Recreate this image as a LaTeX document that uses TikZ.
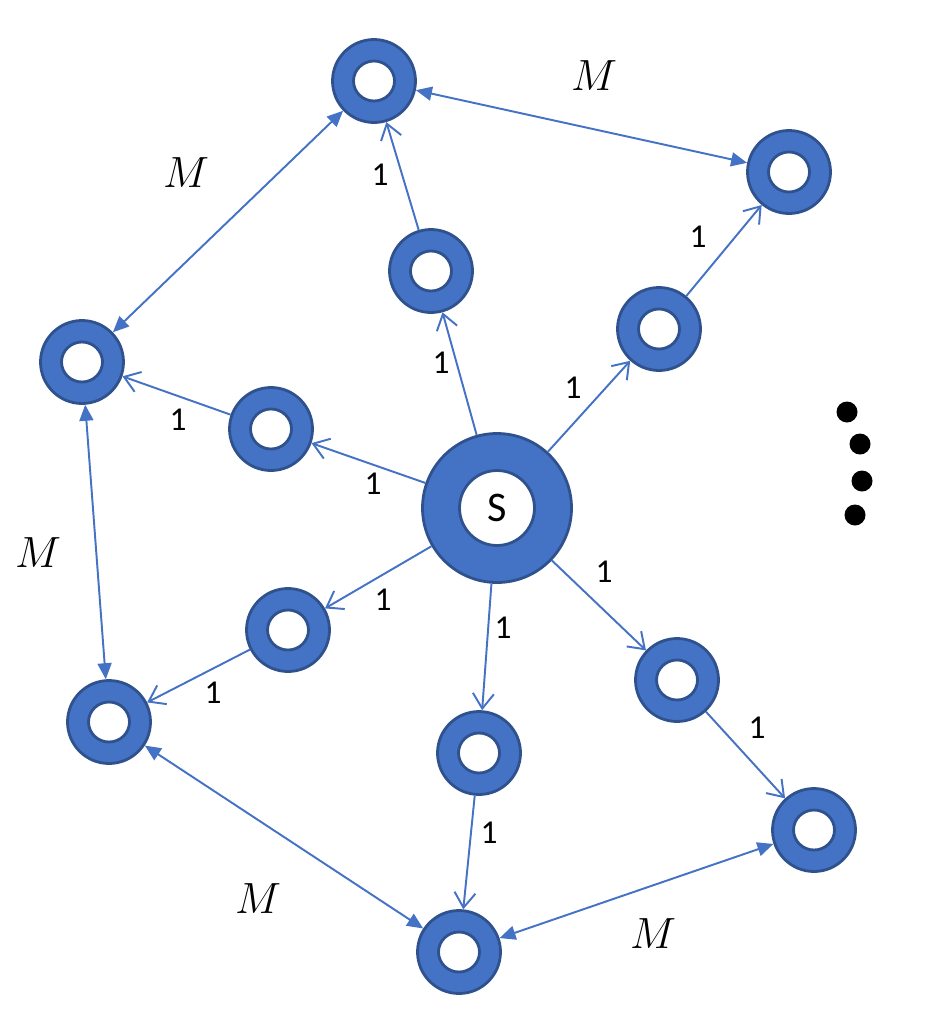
\documentclass[tikz,border=0pt]{standalone}
\usepackage{fontspec}
\setmainfont{Carlito}
\usetikzlibrary{arrows.meta}
\definecolor{ringblue}{HTML}{4472C4}
\definecolor{ringedge}{HTML}{2F528F}

\begin{document}
\begin{tikzpicture}[
    x=0.02cm, y=-0.02cm,
    ring/.style={
        circle,
        draw=ringedge,
        fill=ringblue,
        line width=1.6pt,
        minimum size=1.66cm,
        inner sep=0pt,
        path picture={\draw[ringedge, fill=white, line width=1.6pt]
            (path picture bounding box.center) ellipse (0.41cm and 0.4cm);}
    },
    source/.style={
        circle,
        draw=ringedge,
        fill=ringblue,
        line width=1.6pt,
        minimum size=2.98cm,
        inner sep=0pt,
        font=\fontsize{24}{26}\selectfont,
        path picture={\draw[ringedge, fill=white, line width=1.6pt]
            (path picture bounding box.center) circle (0.75cm);}
    },
    unitedge/.style={draw=ringblue, line width=1.1pt,
        -{Straight Barb[length=0.3cm, width=0.42cm]}},
    bigedge/.style={draw=ringblue, line width=1.1pt,
        {Triangle[length=0.32cm, width=0.28cm]}-{Triangle[length=0.32cm, width=0.28cm]}},
    onelabel/.style={font=\fontsize{19}{21}\selectfont},
    mlabel/.style={font=\fontsize{23}{25}\selectfont}
]
\useasboundingbox (0,0) rectangle (947,1018);

% ---- source ----
\node[source] (S) at (497, 508) {S};

% ---- inner ring (distance 1) ----
\node[ring] (I1) at (431, 271) {};
\node[ring] (I2) at (659, 329) {};
\node[ring] (I3) at (271, 429) {};
\node[ring] (I4) at (288, 630) {};
\node[ring] (I5) at (479, 753) {};
\node[ring] (I6) at (677, 680) {};

% ---- outer ring ----
\node[ring] (T)  at (374, 81)  {};
\node[ring] (TR) at (789, 172) {};
\node[ring] (L)  at (82, 362)  {};
\node[ring] (BL) at (109, 722) {};
\node[ring] (B)  at (459, 952) {};
\node[ring] (BR) at (814, 830) {};

% ---- spokes: source to inner ----
\draw[unitedge] (S) -- (I1);
\draw[unitedge] (S) -- (I2);
\draw[unitedge] (S) -- (I3);
\draw[unitedge] (S) -- (I4);
\draw[unitedge] (S) -- (I5);
\draw[unitedge] (S) -- (I6);

% ---- spokes: inner to outer ----
\draw[unitedge] (I1) -- (T);
\draw[unitedge] (I2) -- (TR);
\draw[unitedge] (I3) -- (L);
\draw[unitedge] (I4) -- (BL);
\draw[unitedge] (I5) -- (B);
\draw[unitedge] (I6) -- (BR);

% ---- outer cycle ----
\draw[bigedge] (T) -- (TR);
\draw[bigedge] (T) -- (L);
\draw[bigedge] (L) -- (BL);
\draw[bigedge] (BL) -- (B);
\draw[bigedge] (B) -- (BR);

% ---- weight labels ----
\node[onelabel] (w1) at (441, 363) {1};
\node[onelabel] (w2) at (380, 175) {1};
\node[onelabel] (w3) at (573, 388) {1};
\node[onelabel] (w4) at (698, 237) {1};
\node[onelabel] (w5) at (373, 484) {1};
\node[onelabel] (w6) at (178, 420) {1};
\node[onelabel] (w7) at (383, 600) {1};
\node[onelabel] (w8) at (213, 693) {1};
\node[onelabel] (w9) at (503, 628) {1};
\node[onelabel] (w10) at (489, 833) {1};
\node[onelabel] (w11) at (604, 572) {1};
\node[onelabel] (w12) at (757, 728) {1};

\node[mlabel] (m1) at (594, 76)  {$M$};
\node[mlabel] (m2) at (186, 173) {$M$};
\node[mlabel] (m3) at (38, 553)  {$M$};
\node[mlabel] (m4) at (258, 899) {$M$};
\node[mlabel] (m5) at (653, 934) {$M$};

% ---- continuation dots ----
\fill[black] (847, 412) circle (0.21cm);
\fill[black] (860, 444) circle (0.21cm);
\fill[black] (862, 481) circle (0.21cm);
\fill[black] (855, 515) circle (0.21cm);

\end{tikzpicture}
\end{document}
